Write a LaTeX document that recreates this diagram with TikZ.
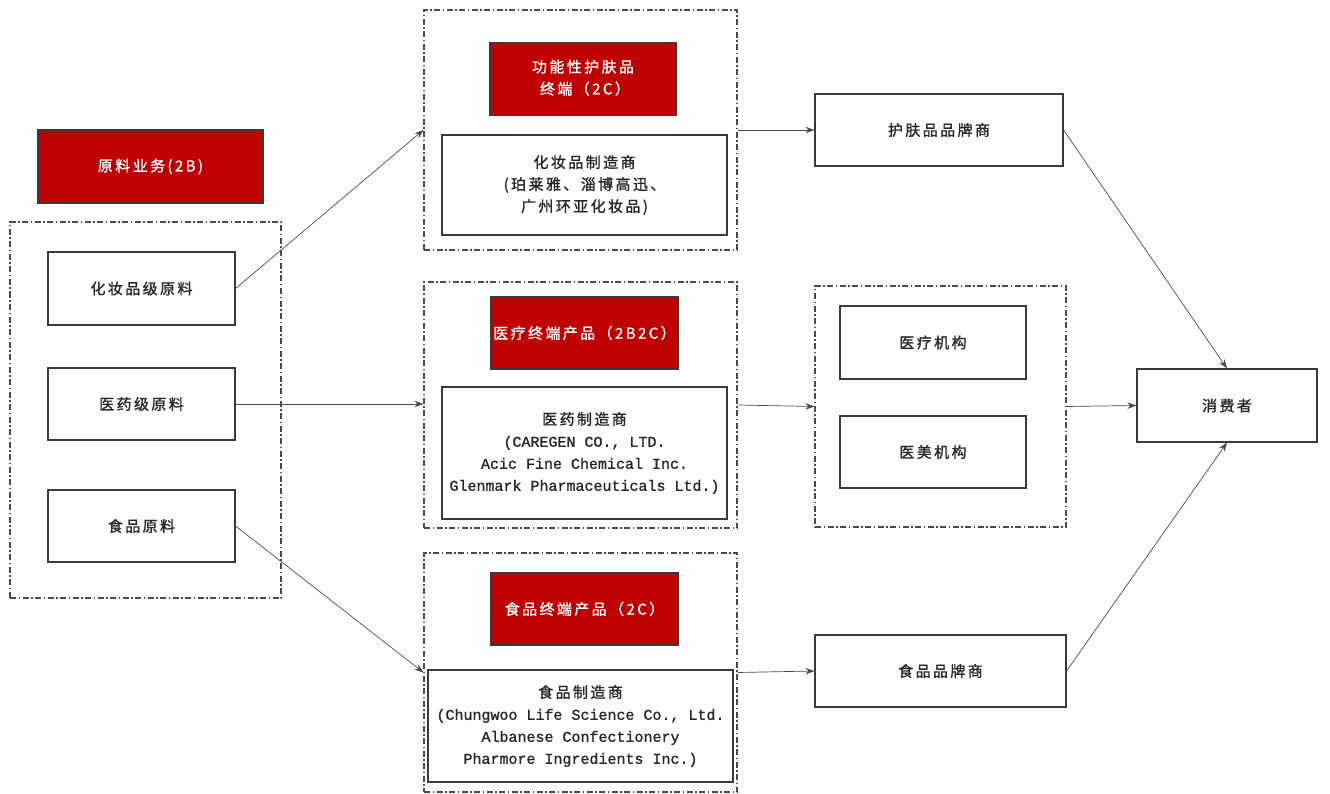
\documentclass[tikz,border=0pt]{standalone}
\usepackage{fontspec}
\setmainfont{Noto Sans CJK SC}[LetterSpace=16,FakeBold=1.2]
\newfontfamily\latmono{Liberation Mono}[FakeBold=1.2]
\usetikzlibrary{arrows.meta}
\definecolor{boxred}{HTML}{C00000}
\definecolor{linegray}{HTML}{4A4A4A}
\definecolor{bordergray}{HTML}{3A3A3A}
\begin{document}
\begin{tikzpicture}[x=1pt,y=-1pt,
  font=\fontsize{15}{22}\selectfont,
  wbox/.style={draw=bordergray,line width=1.1pt,fill=white,align=center,inner sep=0pt,text=black!85},
  rbox/.style={draw=bordergray,line width=1.1pt,fill=boxred,text=white,align=center,inner sep=0pt},
  grp/.style={draw=linegray,line width=1.1pt,dash pattern=on 6pt off 2.5pt on 1.5pt off 2.5pt},
  conn/.style={draw=linegray,line width=0.7pt,-{Stealth[length=9pt,width=6.5pt]}}
]
\useasboundingbox (0,0) rectangle (1330,794);
% groups
\node[grp,minimum width=271pt,minimum height=376pt] (grpL) at (145.5,410) {};
\node[grp,minimum width=313pt,minimum height=240pt] (grpT) at (580.5,130) {};
\node[grp,minimum width=313pt,minimum height=246pt] (grpM) at (580.5,405) {};
\node[grp,minimum width=313pt,minimum height=239pt] (grpB) at (580.5,672.5) {};
\node[grp,minimum width=251pt,minimum height=241pt] (grpR) at (940.5,406.5) {};
% left
\node[rbox,minimum width=225pt,minimum height=73pt] (raw) at (150.5,166.5) {原料业务(2B)};
\node[wbox,minimum width=187pt,minimum height=73pt] (r1) at (141.5,288.5) {化妆品级原料};
\node[wbox,minimum width=187pt,minimum height=72pt] (r2) at (141.5,404) {医药级原料};
\node[wbox,minimum width=187pt,minimum height=72pt] (r3) at (141.5,526) {食品原料};
% middle
\node[rbox,minimum width=186pt,minimum height=73pt] (redT) at (583,79) {\begin{tabular}{@{}l@{}}功能性护肤品\\\hspace{8pt}终端（2C）\end{tabular}};
\node[wbox,minimum width=285pt,minimum height=100pt] (cos) at (584.5,185) {化妆品制造商\\(珀莱雅、淄博高迅、\\广州环亚化妆品)};
\node[rbox,minimum width=187pt,minimum height=72pt] (redM) at (584.5,333) {医疗终端产品（2B2C）};
\node[wbox,minimum width=285pt,minimum height=132pt] (pharm) at (584.5,453) {医药制造商\\{\latmono (CAREGEN CO., LTD.}\\{\latmono Acic Fine Chemical Inc.}\\{\latmono Glenmark Pharmaceuticals Ltd.)}};
\node[rbox,minimum width=187pt,minimum height=72pt] (redB) at (584.5,609) {食品终端产品（2C）};
\node[wbox,minimum width=305pt,minimum height=112pt] (food) at (580.5,726) {食品制造商\\{\latmono (Chungwoo Life Science Co., Ltd.}\\{\latmono Albanese Confectionery}\\{\latmono Pharmore Ingredients Inc.)}};
% right
\node[wbox,minimum width=248pt,minimum height=72pt] (brandS) at (939,130) {护肤品品牌商};
\node[wbox,minimum width=186pt,minimum height=73pt] (med) at (933,342.5) {医疗机构};
\node[wbox,minimum width=186pt,minimum height=72pt] (aes) at (933,452) {医美机构};
\node[wbox,minimum width=251pt,minimum height=72pt] (brandF) at (940.5,671) {食品品牌商};
\node[wbox,minimum width=180pt,minimum height=73pt] (cons) at (1227,405.5) {消费者};
% connectors
\draw[conn] (r1.east) -- (grpT.west);
\draw[conn] (r2.east) -- (r2.east -| grpM.west);
\draw[conn] (r3.east) -- (grpB.west);
\draw[conn] (grpT.east) -- (brandS.west);
\draw[conn] (grpM.east) -- (grpR.west);
\draw[conn] (grpB.east) -- (brandF.west);
\draw[conn] (brandS.east) -- (cons.north);
\draw[conn] (grpR.east) -- (cons.west);
\draw[conn] (brandF.east) -- (cons.south);
\end{tikzpicture}
\end{document}
